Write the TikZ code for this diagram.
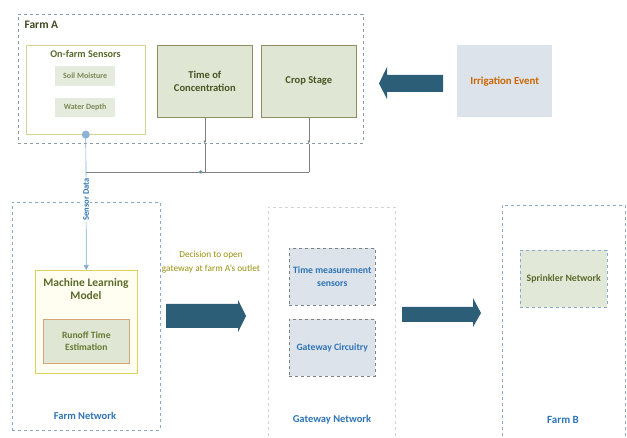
\documentclass[tikz,border=0pt]{standalone}
\usepackage{fontspec}
\setmainfont{Carlito}
\usetikzlibrary{positioning,arrows.meta}
\definecolor{olivetxt}{HTML}{5A6A2A}
\definecolor{bluetxt}{HTML}{2E74B5}
\definecolor{greenfill}{HTML}{DFE6D4}
\definecolor{bluefill}{HTML}{DCE3EA}
\definecolor{arrowblue}{HTML}{2D5E78}
\definecolor{framegray}{HTML}{8C99A6}
\definecolor{frameblue}{HTML}{8AAACB}

\begin{document}
\begin{tikzpicture}[x=1pt, y=-1pt,
  box/.style={anchor=north west, inner sep=0pt},
  frame/.style={box, draw=framegray, dashed, line width=0.6pt},
  greenbox/.style={box, fill=greenfill, draw=gray!70!olive, line width=0.6pt, font=\bfseries\fontsize{10.5}{13}\selectfont, text=olivetxt!80!black, align=center},
  gatebox/.style={box, fill=bluefill, draw=gray, dashed, line width=0.5pt, font=\bfseries\fontsize{9.7}{12.5}\selectfont, text=bluetxt, align=center},
  netlabel/.style={font=\bfseries\fontsize{10.5}{12}\selectfont, text=bluetxt},
  greylink/.style={draw=gray, line width=0.6pt},
  bluelink/.style={draw=bluetxt!60, line width=0.7pt}]
\useasboundingbox (0,0) rectangle (627,438);

\node[frame, minimum width=345pt, minimum height=129pt] (farmA) at (18,14) {};
\node[anchor=west, font=\bfseries\fontsize{11.5}{13}\selectfont, text=olivetxt!70!black] (farmAlbl) at (21,25) {Farm A};
\node[box, draw=olive!35, line width=0.6pt, minimum width=119pt, minimum height=89pt] (sensors) at (26,45) {};
\node[font=\bfseries\fontsize{10.2}{12}\selectfont, text=olivetxt] (sensorslbl) at (85.5,54) {On-farm Sensors};
\node[box, fill=greenfill!80, minimum width=60pt, minimum height=20pt, font=\bfseries\fontsize{8}{10}\selectfont, text=olivetxt!80] (soil) at (55,66) {Soil Moisture};
\node[box, fill=greenfill!80, minimum width=60pt, minimum height=19pt, font=\bfseries\fontsize{8}{10}\selectfont, text=olivetxt!80] (water) at (55,98) {Water Depth};
\node[greenbox, minimum width=95pt, minimum height=72pt] (toc) at (157,45) {Time of\\Concentration};
\node[greenbox, minimum width=95pt, minimum height=72pt] (crop) at (261,45) {Crop Stage};
\node[box, fill=bluefill, minimum width=95pt, minimum height=72pt, font=\bfseries\fontsize{10.8}{13}\selectfont, text=orange!80!black] (irr) at (457,45) {Irrigation Event};
\fill[arrowblue] (443,75) -- (387,75) -- (387,67) -- (379,83.5) -- (387,99) -- (387,92) -- (443,92) -- cycle;

\node[box, draw=frameblue, dashed, line width=0.6pt, minimum width=148pt, minimum height=228pt] (farmnet) at (12,202) {};
\node[box, fill=yellow!6, draw=yellow!45!olive!60, line width=0.6pt, minimum width=102pt, minimum height=103pt] (ml) at (35,270) {};
\node[font=\bfseries\fontsize{11.5}{12.5}\selectfont, text=olivetxt, align=center] (mllbl) at (86,289) {Machine Learning\\Model};
\node[box, fill=greenfill, draw=brown!70, line width=0.6pt, minimum width=86pt, minimum height=44pt, font=\bfseries\fontsize{9.6}{12}\selectfont, text=olive!60!green!70!black, align=center] (runoff) at (43,319) {Runoff Time\\Estimation};
\node[netlabel] (farmnetlbl) at (85,416) {Farm Network};

\node[font=\fontsize{9.3}{13.5}\selectfont, text=olive!80!yellow!90!black, align=center] (decision) at (211,262) {Decision to open\\gateway at farm A's outlet};
\fill[arrowblue] (166,304) -- (238,304) -- (238,300) -- (246,316) -- (238,332) -- (238,328) -- (166,328) -- cycle;

\node[box, draw=gray!35, dashed, line width=0.5pt, minimum width=127pt, minimum height=240pt] (gatenet) at (268,207) {};
\node[gatebox, minimum width=86pt, minimum height=57pt] (tms) at (289,248) {Time measurement\\sensors};
\node[gatebox, minimum width=86pt, minimum height=57pt] (gc) at (289,319) {Gateway Circuitry};
\node[netlabel] (gatenetlbl) at (332,420) {Gateway Network};
\fill[arrowblue] (402,307) -- (473,307) -- (473,298) -- (481,313) -- (473,327) -- (473,322) -- (402,322) -- cycle;

\node[box, draw=frameblue, dashed, line width=0.6pt, minimum width=123pt, minimum height=240pt] (farmB) at (502,205) {};
\node[box, fill=greenfill!90, draw=frameblue, dashed, line width=0.6pt, minimum width=87pt, minimum height=57pt, font=\bfseries\fontsize{9.8}{12}\selectfont, text=olivetxt] (sprinkler) at (520,250) {Sprinkler Network};
\node[netlabel, font=\bfseries\fontsize{11}{12}\selectfont] (farmBlbl) at (563,420) {Farm B};

\coordinate (js) at (sensors.south |- 0,172);
\coordinate (jt) at (toc.south |- 0,172);
\coordinate (jc) at (crop.south |- 0,172);
\draw[greylink, -{Latex[length=3pt,width=3pt]}] (toc.south) -- (toc.south |- farmA.south);
\draw[greylink] (toc.south |- farmA.south) -- (jt);
\draw[greylink, -{Latex[length=3pt,width=3pt]}] (crop.south) -- (crop.south |- farmA.south);
\draw[greylink] (crop.south |- farmA.south) -- (jc);
\draw[greylink] (js) -- (jc);
\fill[arrowblue!70] ([xshift=-4pt]jt) circle (1.8);
\draw[bluelink, -{Triangle[length=5pt,width=5pt]}] (sensors.south) -- (ml.north)
  node[pos=0.48, rotate=90, fill=white, inner sep=1pt, font=\bfseries\fontsize{8.5}{10}\selectfont, text=bluetxt] (sdlbl) {Sensor Data};
\fill[bluetxt!55] (sensors.south) circle (4);
\end{tikzpicture}
\end{document}
